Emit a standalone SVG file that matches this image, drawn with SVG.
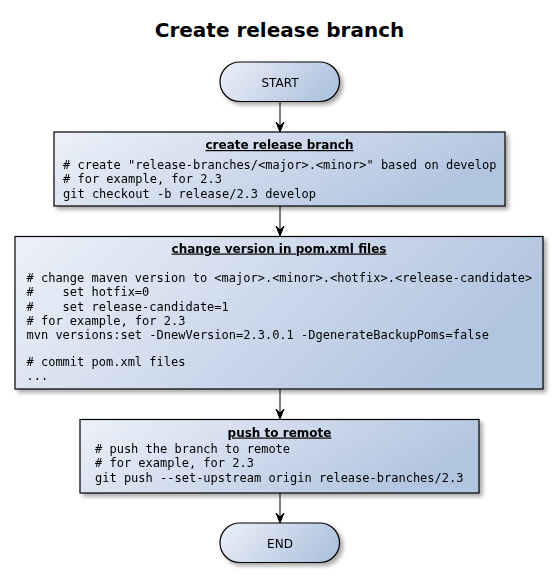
<svg xmlns="http://www.w3.org/2000/svg" width="559" height="578" viewBox="0 0 559 578">
<style>
.title{font-family:"DejaVu Sans",sans-serif;font-weight:bold;font-size:20px;fill:#000}
.lbl{font-family:"DejaVu Sans",sans-serif;font-size:12px;fill:#000}
.hd{font-family:"DejaVu Sans",sans-serif;font-weight:bold;font-size:12px;fill:#000;text-decoration:underline}
.code{font-family:"DejaVu Sans Mono",monospace;font-size:12px;fill:#000;white-space:pre}
.box{fill:url(#g);stroke:#000;stroke-width:1.2}
.ln{stroke:#000;stroke-width:1;fill:none}
.ah{fill:#000;stroke:#000;stroke-width:1}
</style>
<defs>
<linearGradient id="g" x1="0" y1="0" x2="1" y2="0.3">
<stop offset="0" stop-color="#EDF1F9"/>
<stop offset="1" stop-color="#B2C5E0"/>
</linearGradient>
<filter id="sh" x="-10%" y="-10%" width="130%" height="150%">
<feGaussianBlur in="SourceAlpha" stdDeviation="2"/>
<feOffset dx="3" dy="3" result="b"/>
<feComponentTransfer><feFuncA type="linear" slope="0.35"/></feComponentTransfer>
<feMerge><feMergeNode/><feMergeNode in="SourceGraphic"/></feMerge>
</filter>
</defs>
<rect width="559" height="578" fill="#fff"/>
<text class="title" x="279.5" y="37" text-anchor="middle">Create release branch</text>
<g id="connectors">
<line class="ln" x1="280" y1="101.5" x2="280" y2="128"/>
<polygon class="ah" points="276,122 280,132 284,122 280,126"/>
<line class="ln" x1="280" y1="206" x2="280" y2="232"/>
<polygon class="ah" points="276,226 280,236 284,226 280,230"/>
<line class="ln" x1="280" y1="389" x2="280" y2="415"/>
<polygon class="ah" points="276,409 280,419 284,409 280,413"/>
<line class="ln" x1="280" y1="493" x2="280" y2="519"/>
<polygon class="ah" points="276,513 280,523 284,513 280,517"/>
</g>
<g id="start" filter="url(#sh)">
<rect class="box" x="220" y="62" width="119.5" height="39.5" rx="19.75" ry="19.75"/>
<text class="lbl" x="280" y="86.5" text-anchor="middle">START</text>
</g>
<g id="create-release-branch" filter="url(#sh)">
<rect class="box" x="54" y="132" width="451" height="74"/>
<text class="hd" x="279.5" y="149" text-anchor="middle">create release branch</text>
<text class="code" x="63" y="168.5"># create "release-branches/&lt;major&gt;.&lt;minor&gt;" based on develop</text>
<text class="code" x="63" y="183"># for example, for 2.3</text>
<text class="code" x="63" y="197.5">git checkout -b release/2.3 develop</text>
</g>
<g id="change-version" filter="url(#sh)">
<rect class="box" x="15" y="236.5" width="528" height="152.5"/>
<text class="hd" x="279" y="252.5" text-anchor="middle">change version in pom.xml files</text>
<text class="code" x="26.5" y="282"># change maven version to &lt;major&gt;.&lt;minor&gt;.&lt;hotfix&gt;.&lt;release-candidate&gt;</text>
<text class="code" x="26.5" y="296">#    set hotfix=0</text>
<text class="code" x="26.5" y="310.5">#    set release-candidate=1</text>
<text class="code" x="26.5" y="324.5"># for example, for 2.3</text>
<text class="code" x="26.5" y="338.5">mvn versions:set -DnewVersion=2.3.0.1 -DgenerateBackupPoms=false</text>
<text class="code" x="26.5" y="366"># commit pom.xml files</text>
<text class="code" x="26.5" y="380">...</text>
</g>
<g id="push-to-remote" filter="url(#sh)">
<rect class="box" x="80" y="419.5" width="399" height="73.5"/>
<text class="hd" x="279.5" y="436.5" text-anchor="middle">push to remote</text>
<text class="code" x="95" y="452.5"># push the branch to remote</text>
<text class="code" x="95" y="467"># for example, for 2.3</text>
<text class="code" x="95" y="481.5">git push --set-upstream origin release-branches/2.3</text>
</g>
<g id="end" filter="url(#sh)">
<rect class="box" x="220" y="523" width="119.5" height="39.5" rx="19.75" ry="19.75"/>
<text class="lbl" x="280" y="547.5" text-anchor="middle">END</text>
</g>
</svg>
